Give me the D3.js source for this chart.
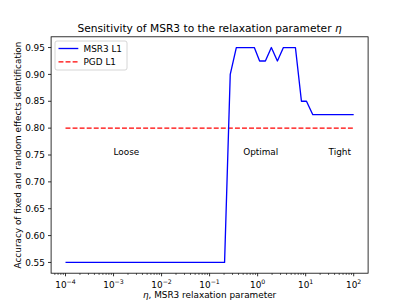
<!DOCTYPE html>
<html><head><meta charset="utf-8">
<script src="https://cdn.jsdelivr.net/npm/d3@7"></script>
<style>
body{margin:0;background:#fff;}
text{font-family:"DejaVu Sans",sans-serif;fill:#000;}
</style></head>
<body><svg id="c" width="409" height="307"></svg>
<script>
// Data
const msr3Eta = [1e-4, 0.205, 0.269, 0.36, 0.853, 1.10, 1.45, 1.93, 2.58, 3.44, 6.12, 8.17, 10.4, 14.1, 100];
const msr3Acc = [0.55, 0.55, 0.90, 0.95, 0.95, 0.925, 0.925, 0.95, 0.925, 0.95, 0.95, 0.85, 0.85, 0.825, 0.825];
const pgdEta = [1e-4, 100];
const pgdAcc = [0.80, 0.80];
const yTicks = [0.55, 0.60, 0.65, 0.70, 0.75, 0.80, 0.85, 0.90, 0.95];
const xTickExps = [-4, -3, -2, -1, 0, 1, 2];
const regionLabels = [{t:"Loose", x:1e-3, y:0.75}, {t:"Optimal", x:0.5, y:0.75}, {t:"Tight", x:30, y:0.75}];
const seriesNames = ["MSR3 L1", "PGD L1"];

const svg = d3.select("#c");
const L = 51.1, R = 368.1, T = 36.8, B = 273.2;
const x = d3.scaleLog().domain([Math.pow(10,-4.3), Math.pow(10,2.3)]).range([L, R]);
const y = d3.scaleLinear().domain([0.53, 0.97]).range([B, T]);
const fs = 8.9;

// lines
const line = d3.line().x(d => x(d[0])).y(d => y(d[1]));
svg.append("path").datum(pgdEta.map((e,i)=>[e,pgdAcc[i]])).attr("d", line)
  .attr("fill","none").attr("stroke","#ff0000").attr("stroke-width",1.33).attr("stroke-dasharray","4.93,2.13");
svg.append("path").datum(msr3Eta.map((e,i)=>[e,msr3Acc[i]])).attr("d", line)
  .attr("fill","none").attr("stroke","#0000ff").attr("stroke-width",1.33).attr("stroke-linejoin","round");

// region labels
regionLabels.forEach(r => {
  svg.append("text").attr("x", x(r.x)).attr("y", y(r.y)).attr("font-size", fs).text(r.t);
});

// frame
svg.append("rect").attr("x",L).attr("y",T).attr("width",R-L).attr("height",B-T)
  .attr("fill","none").attr("stroke","#000").attr("stroke-width",0.8);

// y ticks
yTicks.forEach(v => {
  const yy = y(v);
  svg.append("line").attr("x1",L-3.1).attr("x2",L).attr("y1",yy).attr("y2",yy).attr("stroke","#000").attr("stroke-width",0.8);
  svg.append("text").attr("x",L-6.2).attr("y",yy).attr("dy","0.35em").attr("text-anchor","end").attr("font-size",fs).text(v.toFixed(2));
});

// x ticks major + minor
xTickExps.forEach(e => {
  const xx = x(Math.pow(10,e));
  svg.append("line").attr("x1",xx).attr("x2",xx).attr("y1",B).attr("y2",B+3.1).attr("stroke","#000").attr("stroke-width",0.8);
  const t = svg.append("text").attr("x",xx).attr("y",B+15).attr("text-anchor","middle").attr("font-size",fs);
  t.append("tspan").text("10");
  t.append("tspan").attr("dy",-4).attr("font-size",fs*0.7).text(e<0 ? "\u2212"+(-e) : String(e));
});
for (let e = -5; e <= 2; e++) {
  for (let m = 2; m <= 9; m++) {
    const v = m*Math.pow(10,e);
    if (v < x.domain()[0] || v > x.domain()[1]) continue;
    const xx = x(v);
    svg.append("line").attr("x1",xx).attr("x2",xx).attr("y1",B).attr("y2",B+1.8).attr("stroke","#000").attr("stroke-width",0.6);
  }
}

// axis labels
svg.append("text").attr("x",(L+R)/2).attr("y",298).attr("text-anchor","middle").attr("font-size",fs)
  .html('<tspan font-style="italic">\u03b7</tspan>, MSR3 relaxation parameter');
svg.append("text").attr("transform",`translate(21,${(T+B)/2}) rotate(-90)`).attr("text-anchor","middle").attr("font-size",fs)
  .text("Accuracy of fixed and random effects identification");
svg.append("text").attr("x",(L+R)/2).attr("y",31.5).attr("text-anchor","middle").attr("font-size",10.67)
  .html('Sensitivity of MSR3 to the relaxation parameter <tspan font-style="italic">\u03b7</tspan>');

// legend
const lg = svg.append("g");
lg.append("rect").attr("x",55).attr("y",41).attr("width",72).attr("height",29).attr("rx",2)
  .attr("fill","#fff").attr("fill-opacity",0.8).attr("stroke","#cccccc").attr("stroke-width",0.8);
const lcols = ["#0000ff","#ff0000"], ldash = [null,"4.93,2.13"];
seriesNames.forEach((n,i) => {
  const yy = 48.5 + i*13.3;
  lg.append("line").attr("x1",58.5).attr("x2",78.3).attr("y1",yy).attr("y2",yy)
    .attr("stroke",lcols[i]).attr("stroke-width",1.33).attr("stroke-dasharray",ldash[i]);
  lg.append("text").attr("x",83.5).attr("y",yy).attr("dy","0.35em").attr("font-size",fs).text(n);
});
</script></body></html>
